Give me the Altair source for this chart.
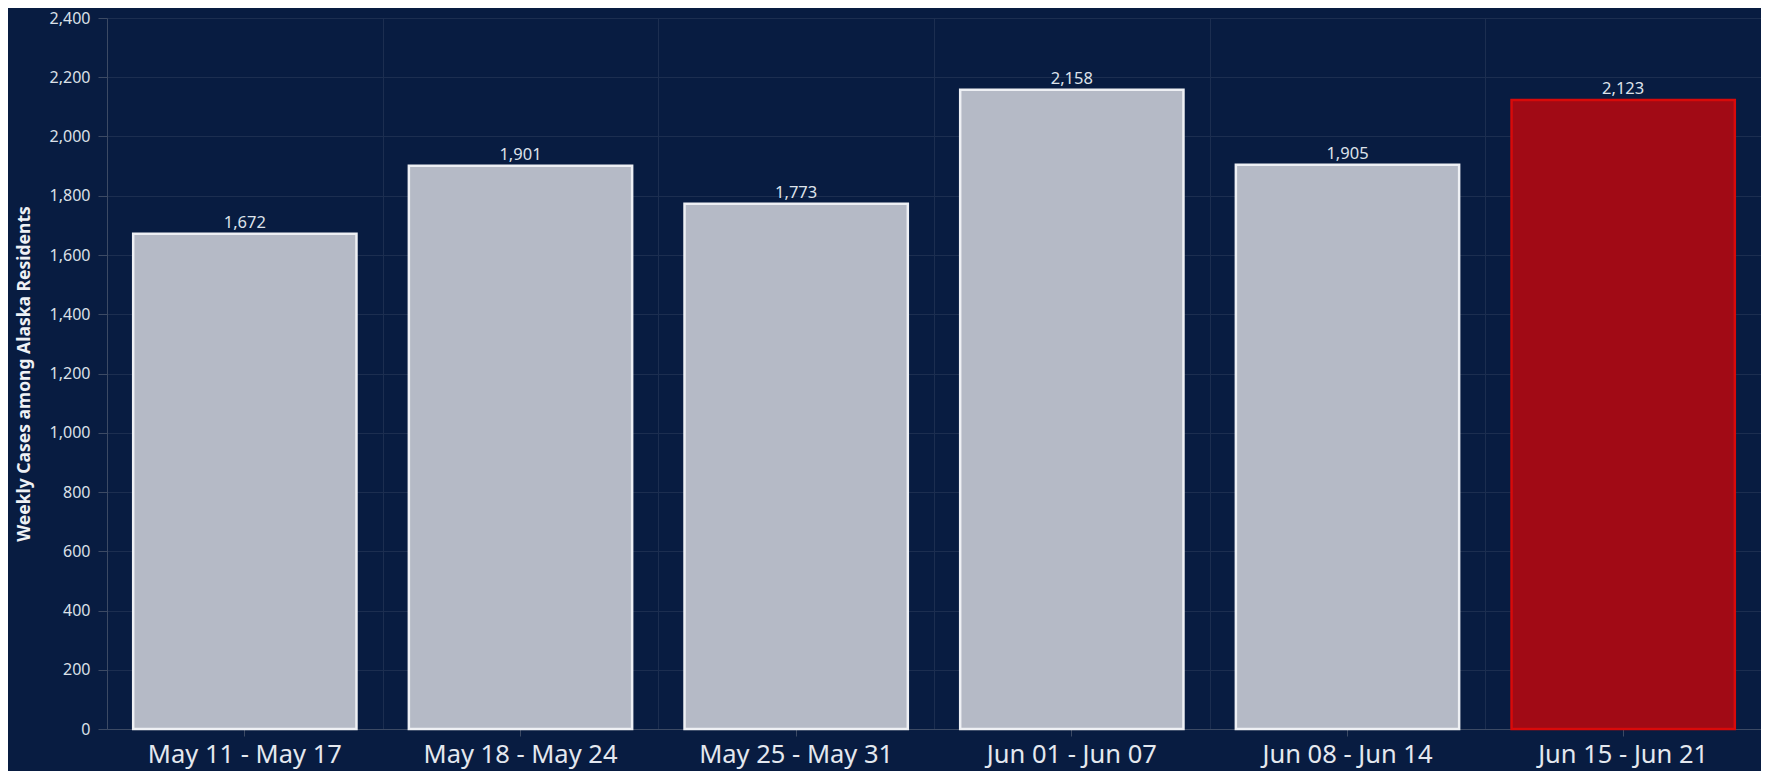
import altair as alt
import pandas as pd

weeks = ["May 11 - May 17", "May 18 - May 24", "May 25 - May 31",
         "Jun 01 - Jun 07", "Jun 08 - Jun 14", "Jun 15 - Jun 21"]
cases = [1672, 1901, 1773, 2158, 1905, 2123]
current_week = "Jun 15 - Jun 21"
y_ticks = [0, 200, 400, 600, 800, 1000, 1200, 1400, 1600, 1800, 2000, 2200, 2400]

df = pd.DataFrame({"week": weeks, "cases": cases})

BG = "#081c41"
GRID = "#1c2e50"
DOMAIN = "#3c4a64"
FONT = "Noto Sans"
PLOT_H = 711

x_scale = alt.Scale(paddingInner=0.19, paddingOuter=0.095)
y_scale = alt.Scale(domain=[0, 2400])

x_axis = alt.Axis(labelAngle=0, labelFontSize=25.5, labelColor="#e4e8ef",
                  labelFont=FONT, labelPadding=6, tickSize=7, labelLimit=400,
                  labelBaseline="top",
                  tickColor=DOMAIN, domainColor=DOMAIN, grid=False)
y_axis = alt.Axis(values=y_ticks, format=",d",
                  labelFontSize=16, labelColor="#dbe0e8", labelFont=FONT,
                  labelPadding=8, tickSize=9, tickColor=DOMAIN,
                  domainColor=DOMAIN, gridColor=GRID,
                  titleFontSize=17.5, titleFont=FONT, titleFontWeight="bold",
                  titleColor="#eef1f5", titleX=-74, titleY=PLOT_H / 2,
                  titleAlign="center", titleBaseline="bottom", titleAngle=270)
y_title = "Weekly Cases among Alaska Residents"

is_current = alt.datum.week == current_week

bars = alt.Chart(df).mark_bar(strokeWidth=2.5).encode(
    x=alt.X("week:N", sort=weeks, scale=x_scale, title=None, axis=x_axis),
    y=alt.Y("cases:Q", scale=y_scale, title=y_title, axis=y_axis),
    color=alt.condition(is_current, alt.value("#a10a15"), alt.value("#b5bac6")),
    stroke=alt.condition(is_current, alt.value("#d80a0a"), alt.value("#eef0f4")),
)

labels = alt.Chart(df).mark_text(dy=-3, baseline="bottom", fontSize=16.5,
                                  font=FONT, color="#dde2ea").encode(
    x=alt.X("week:N", sort=weeks, scale=x_scale, title=None, axis=x_axis),
    y=alt.Y("cases:Q", scale=y_scale, title=y_title, axis=y_axis),
    text=alt.Text("cases:Q", format=",d"),
)

main = alt.layer(bars, labels)

vgrid = alt.Chart(df).mark_point(opacity=0).encode(
    x=alt.X("week:N", sort=weeks,
            scale=alt.Scale(paddingInner=0, paddingOuter=0), title=None,
            axis=alt.Axis(orient="top", grid=True, tickBand="extent",
                          gridColor=GRID, labels=False, ticks=False,
                          domain=False)),
    y=alt.Y("cases:Q", scale=y_scale, title=y_title, axis=y_axis),
)

chart = alt.layer(vgrid, main).resolve_scale(x="independent").properties(
    width=1654, height=PLOT_H,
    autosize="none",
    padding={"left": 99, "top": 10, "right": 0, "bottom": 42},
    background=BG,
).configure_view(stroke=None)

chart.save("out.html", embed_options={"renderer": "svg", "actions": False})
